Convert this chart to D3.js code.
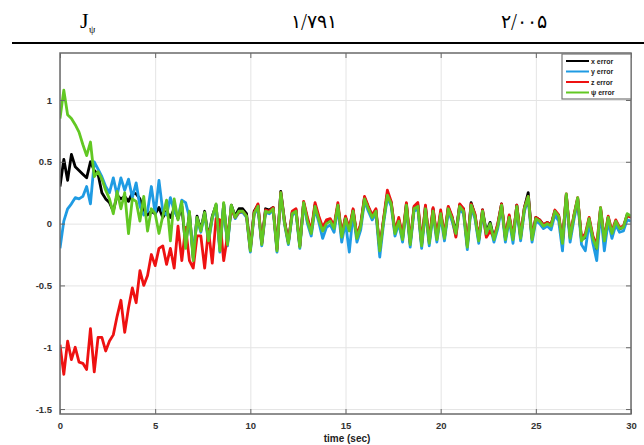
<!DOCTYPE html>
<html>
<head>
<meta charset="utf-8">
<script src="https://cdn.jsdelivr.net/npm/d3@7"></script>
<style>
  body { margin: 0; background: #fff; }
  svg { display: block; }
</style>
</head>
<body>
<div id="chart"></div>
<script>
const width = 644;
const height = 445;

// header row of the table above the figure
const headerCells = ["۱/۷۹۱", "۲/۰۰۵"];

const xTicks = [0, 5, 10, 15, 20, 25, 30];
const yTicks = [-1.5, -1, -0.5, 0, 0.5, 1];
const legendLabels = ["x error", "y error", "z error", "\u03c8 error"];
const colors = ["#000000", "#1f9be3", "#ee1111", "#62c823"];

// samples every 0.2 s
const step = 0.2;

const xErr = [
  0.30, 0.52, 0.35, 0.56, 0.46, 0.43, 0.40, 0.37, 0.50, 0.43,
  0.40, 0.25, 0.20, 0.17, 0.10, 0.23, 0.20, 0.22, 0.18, 0.25,
  0.24, 0.20, 0.10, 0.07, 0.10, 0.08, 0.13, 0.05, 0.10, 0.05,
  0.12, 0.04, 0.14, -0.18, 0.09, -0.28, 0.06, -0.05, 0.10, -0.12,
  0.06, 0.15, -0.20, 0.16, -0.16, 0.15, 0.06, 0.12, 0.12, 0.08,
  -0.20, 0.10, 0.15, -0.16, 0.12, 0.11, 0.13, -0.20, 0.26, 0.02,
  -0.15, 0.09, 0.11, -0.18, 0.17, 0.03, -0.07, 0.15, 0.04, -0.05,
  0.01, 0.03, -0.03, 0.15, -0.10, 0.05, -0.05, 0.11, -0.11, -0.01,
  0.21, 0.13, 0.06, 0.11, -0.21, 0.03, 0.24, 0.17, -0.07, 0.03,
  -0.12, 0.16, -0.16, 0.13, 0.15, -0.17, 0.14, -0.15, 0.12, -0.12,
  0.09, -0.11, 0.13, 0.05, -0.07, 0.15, 0.12, -0.18, 0.17, 0.07,
  -0.13, 0.11, -0.07, 0.01, -0.12, -0.01, 0.16, -0.12, 0.06, -0.12,
  0.15, -0.11, 0.13, 0.25, -0.12, 0.05, 0.03, -0.01, 0.01, -0.01,
  0.10, 0.06, -0.15, 0.23, -0.11, 0.06, 0.20, -0.13, -0.11, 0.04,
  -0.12, -0.21, 0.12, -0.15, 0.05, -0.08, 0.02, -0.04, -0.03, 0.07,
  0.05
];

const yErr = [
  -0.20, 0.02, 0.12, 0.16, 0.21, 0.20, 0.22, 0.30, 0.16, 0.50,
  0.44, 0.38, 0.30, 0.25, 0.37, 0.23, 0.37, 0.27, 0.36, 0.21,
  0.33, 0.14, 0.07, 0.10, 0.30, 0.08, 0.35, 0.10, 0.07, 0.21,
  0.10, 0.05, 0.19, 0.17, 0.05, -0.25, 0.04, -0.07, 0.08, -0.15,
  0.04, 0.15, -0.23, 0.16, -0.18, 0.14, 0.04, 0.09, 0.09, 0.05,
  -0.23, 0.07, 0.13, -0.18, 0.09, 0.08, 0.11, -0.23, 0.24, -0.01,
  -0.17, 0.07, 0.09, -0.20, 0.16, 0.00, -0.10, 0.12, 0.01, -0.12,
  -0.03, -0.01, -0.07, 0.13, -0.15, 0.01, -0.23, 0.08, -0.15, -0.05,
  0.18, 0.10, 0.03, 0.08, -0.27, 0.00, 0.21, 0.14, -0.10, 0.00,
  -0.15, 0.13, -0.19, 0.10, 0.12, -0.20, 0.10, -0.18, 0.08, -0.15,
  0.06, -0.14, 0.10, 0.02, -0.10, 0.12, 0.08, -0.21, 0.13, 0.04,
  -0.16, 0.08, -0.10, -0.02, -0.15, -0.04, 0.13, -0.15, 0.03, -0.16,
  0.12, -0.14, 0.10, 0.20, -0.15, 0.02, 0.00, -0.04, -0.02, -0.05,
  0.07, 0.02, -0.22, 0.21, -0.15, 0.03, 0.18, -0.17, -0.22, 0.01,
  -0.16, -0.30, 0.10, -0.22, 0.02, -0.12, -0.01, -0.07, -0.06, 0.03,
  0.02
];

const zErr = [
  -0.98, -1.22, -0.95, -1.10, -1.00, -1.12, -1.13, -1.18, -0.85, -1.20,
  -0.92, -0.92, -1.03, -0.95, -0.90, -0.75, -0.62, -0.88, -0.68, -0.52,
  -0.64, -0.38, -0.50, -0.42, -0.25, -0.34, -0.20, -0.18, -0.33, -0.20,
  -0.36, -0.02, -0.30, -0.03, -0.30, -0.36, -0.10, -0.10, -0.36, -0.05,
  -0.32, 0.04, 0.03, -0.30, -0.10, 0.12, 0.05, 0.09, 0.10, 0.06,
  -0.21, 0.09, 0.16, -0.16, 0.11, 0.10, 0.13, -0.21, 0.25, 0.01,
  -0.15, 0.10, 0.12, -0.18, 0.18, 0.05, -0.06, 0.17, 0.06, -0.03,
  0.03, 0.04, -0.02, 0.17, -0.09, 0.06, -0.04, 0.12, -0.10, 0.00,
  0.22, 0.14, 0.07, 0.12, -0.20, 0.04, 0.27, 0.18, -0.06, 0.05,
  -0.10, 0.17, -0.15, 0.14, 0.17, -0.16, 0.15, -0.14, 0.13, -0.11,
  0.11, -0.10, 0.14, 0.06, -0.11, 0.16, 0.12, -0.17, 0.16, 0.08,
  -0.12, 0.11, -0.11, -0.06, -0.11, 0.00, 0.16, -0.11, 0.07, -0.11,
  0.15, -0.10, 0.13, 0.22, -0.11, 0.05, 0.03, -0.01, 0.01, -0.01,
  0.11, 0.07, -0.14, 0.24, -0.10, 0.07, 0.21, -0.12, -0.08, 0.05,
  -0.10, -0.17, 0.13, -0.12, 0.06, -0.06, 0.03, -0.03, -0.02, 0.07,
  0.05
];

const psiErr = [
  0.85, 1.08, 0.88, 0.85, 0.80, 0.74, 0.64, 0.55, 0.66, 0.38,
  0.42, 0.36, 0.27, 0.20, 0.08, 0.26, 0.12, 0.25, -0.08, 0.20,
  0.18, 0.02, 0.22, -0.06, 0.12, 0.08, -0.08, 0.06, 0.19, -0.14,
  0.20, 0.03, 0.18, -0.20, 0.10, -0.30, 0.05, -0.06, 0.09, -0.14,
  0.05, 0.16, -0.22, 0.17, -0.17, 0.15, 0.05, 0.10, 0.10, 0.06,
  -0.22, 0.08, 0.14, -0.17, 0.10, 0.09, 0.12, -0.22, 0.25, 0.00,
  -0.16, 0.08, 0.10, -0.19, 0.17, 0.02, -0.08, 0.14, 0.03, -0.06,
  0.00, 0.02, -0.04, 0.15, -0.11, 0.04, -0.06, 0.10, -0.12, -0.02,
  0.20, 0.12, 0.05, 0.10, -0.22, 0.02, 0.23, 0.16, -0.08, 0.02,
  -0.13, 0.15, -0.17, 0.12, 0.14, -0.18, 0.12, -0.16, 0.10, -0.13,
  0.08, -0.12, 0.12, 0.04, -0.08, 0.14, 0.10, -0.19, 0.15, 0.06,
  -0.14, 0.10, -0.08, 0.00, -0.13, -0.02, 0.15, -0.13, 0.05, -0.13,
  0.14, -0.12, 0.12, 0.22, -0.13, 0.04, 0.02, -0.02, 0.00, -0.02,
  0.10, 0.06, -0.16, 0.24, -0.12, 0.06, 0.21, -0.14, -0.10, 0.04,
  -0.12, -0.20, 0.13, -0.14, 0.05, -0.08, 0.02, -0.04, -0.03, 0.08,
  0.06
];

const series = [xErr, yErr, zErr, psiErr];

const plot = { left: 60, right: 631, top: 53, bottom: 414 };

const svg = d3.select("#chart")
  .append("svg")
  .attr("width", width)
  .attr("height", height);

// --- table header above the figure ---
const serif = "'Liberation Serif', 'DejaVu Serif', serif";
svg.append("text")
  .attr("x", 80)
  .attr("y", 28)
  .style("font-family", serif)
  .style("font-size", "22px")
  .text("J");
svg.append("text")
  .attr("x", 89)
  .attr("y", 33)
  .style("font-family", serif)
  .style("font-size", "10px")
  .text("\u03c8");

svg.selectAll("text.cell")
  .data(headerCells)
  .enter()
  .append("text")
  .attr("class", "cell")
  .attr("x", (d, i) => [314, 524][i])
  .attr("y", 28)
  .attr("text-anchor", "middle")
  .style("font-family", "'DejaVu Sans', sans-serif")
  .style("font-size", "19px")
  .style("font-weight", "300")
  .text(d => d);

svg.append("line")
  .attr("x1", 12).attr("x2", width)
  .attr("y1", 43).attr("y2", 43)
  .attr("stroke", "#000")
  .attr("stroke-width", 2);

// --- scales ---
const x = d3.scaleLinear().domain([0, 30]).range([plot.left, plot.right]);
const y = d3.scaleLinear().domain([-1.54, 1.38]).range([plot.bottom, plot.top]);

const innerW = plot.right - plot.left;
const innerH = plot.bottom - plot.top;

// grid
svg.append("g")
  .attr("transform", `translate(0,${plot.bottom})`)
  .call(d3.axisBottom(x).tickValues(xTicks).tickSize(-innerH).tickFormat(""))
  .call(g => g.select(".domain").remove())
  .call(g => g.selectAll("line").attr("stroke", "#e4e4e4"));
svg.append("g")
  .attr("transform", `translate(${plot.left},0)`)
  .call(d3.axisLeft(y).tickValues(yTicks).tickSize(-innerW).tickFormat(""))
  .call(g => g.select(".domain").remove())
  .call(g => g.selectAll("line").attr("stroke", "#e4e4e4"));

// data lines
const line = d3.line()
  .x((d, i) => x(i * step))
  .y(d => y(d));

const clip = svg.append("clipPath").attr("id", "clip")
  .append("rect")
  .attr("x", plot.left).attr("y", plot.top)
  .attr("width", innerW).attr("height", innerH);

svg.append("g")
  .attr("clip-path", "url(#clip)")
  .selectAll("path")
  .data(series)
  .enter()
  .append("path")
  .attr("d", d => line(d))
  .attr("fill", "none")
  .attr("stroke", (d, i) => colors[i])
  .attr("stroke-width", 2.8)
  .attr("stroke-linejoin", "round");

// axes with inward ticks
const tickFont = g => g.selectAll("text")
  .style("font-family", "'Liberation Sans', Arial, sans-serif")
  .style("font-size", "9.5px")
  .style("font-weight", "bold")
  .attr("fill", "#333");

svg.append("g")
  .attr("transform", `translate(0,${plot.bottom})`)
  .call(d3.axisBottom(x).tickValues(xTicks).tickSize(-5).tickPadding(8).tickFormat(d3.format("d")))
  .call(g => g.select(".domain").remove())
  .call(g => g.selectAll("line").attr("stroke", "#666"))
  .call(tickFont);

svg.append("g")
  .attr("transform", `translate(0,${plot.top})`)
  .call(d3.axisTop(x).tickValues(xTicks).tickSize(-5).tickFormat(""))
  .call(g => g.select(".domain").remove())
  .call(g => g.selectAll("line").attr("stroke", "#666"));

svg.append("g")
  .attr("transform", `translate(${plot.left},0)`)
  .call(d3.axisLeft(y).tickValues(yTicks).tickSize(-5).tickPadding(8).tickFormat(d => String(d)))
  .call(g => g.select(".domain").remove())
  .call(g => g.selectAll("line").attr("stroke", "#666"))
  .call(tickFont);

svg.append("g")
  .attr("transform", `translate(${plot.right},0)`)
  .call(d3.axisRight(y).tickValues(yTicks).tickSize(-5).tickFormat(""))
  .call(g => g.select(".domain").remove())
  .call(g => g.selectAll("line").attr("stroke", "#666"));

svg.append("rect")
  .attr("x", plot.left).attr("y", plot.top)
  .attr("width", innerW).attr("height", innerH)
  .attr("fill", "none")
  .attr("stroke", "#6a6a6a")
  .attr("stroke-width", 1.5);

svg.append("text")
  .attr("x", 347)
  .attr("y", 442)
  .attr("text-anchor", "middle")
  .style("font-family", "'Liberation Sans', Arial, sans-serif")
  .style("font-size", "10px")
  .style("font-weight", "bold")
  .attr("fill", "#222")
  .text("time (sec)");

// legend
const legend = svg.append("g").attr("transform", "translate(562,54)");
legend.append("rect")
  .attr("width", 69).attr("height", 45)
  .attr("fill", "#fff")
  .attr("stroke", "#777")
  .attr("stroke-width", 1.2);

const item = legend.selectAll("g.item")
  .data(legendLabels)
  .enter()
  .append("g")
  .attr("class", "item")
  .attr("transform", (d, i) => `translate(0,${7 + i * 10.5})`);
item.append("line")
  .attr("x1", 4).attr("x2", 27)
  .attr("stroke", (d, i) => colors[i])
  .attr("stroke-width", 2);
item.append("text")
  .attr("x", 29)
  .attr("y", 2.5)
  .style("font-family", "'Liberation Sans', Arial, sans-serif")
  .style("font-size", "7px")
  .style("font-weight", "bold")
  .attr("fill", "#222")
  .text(d => d);
</script>
</body>
</html>
